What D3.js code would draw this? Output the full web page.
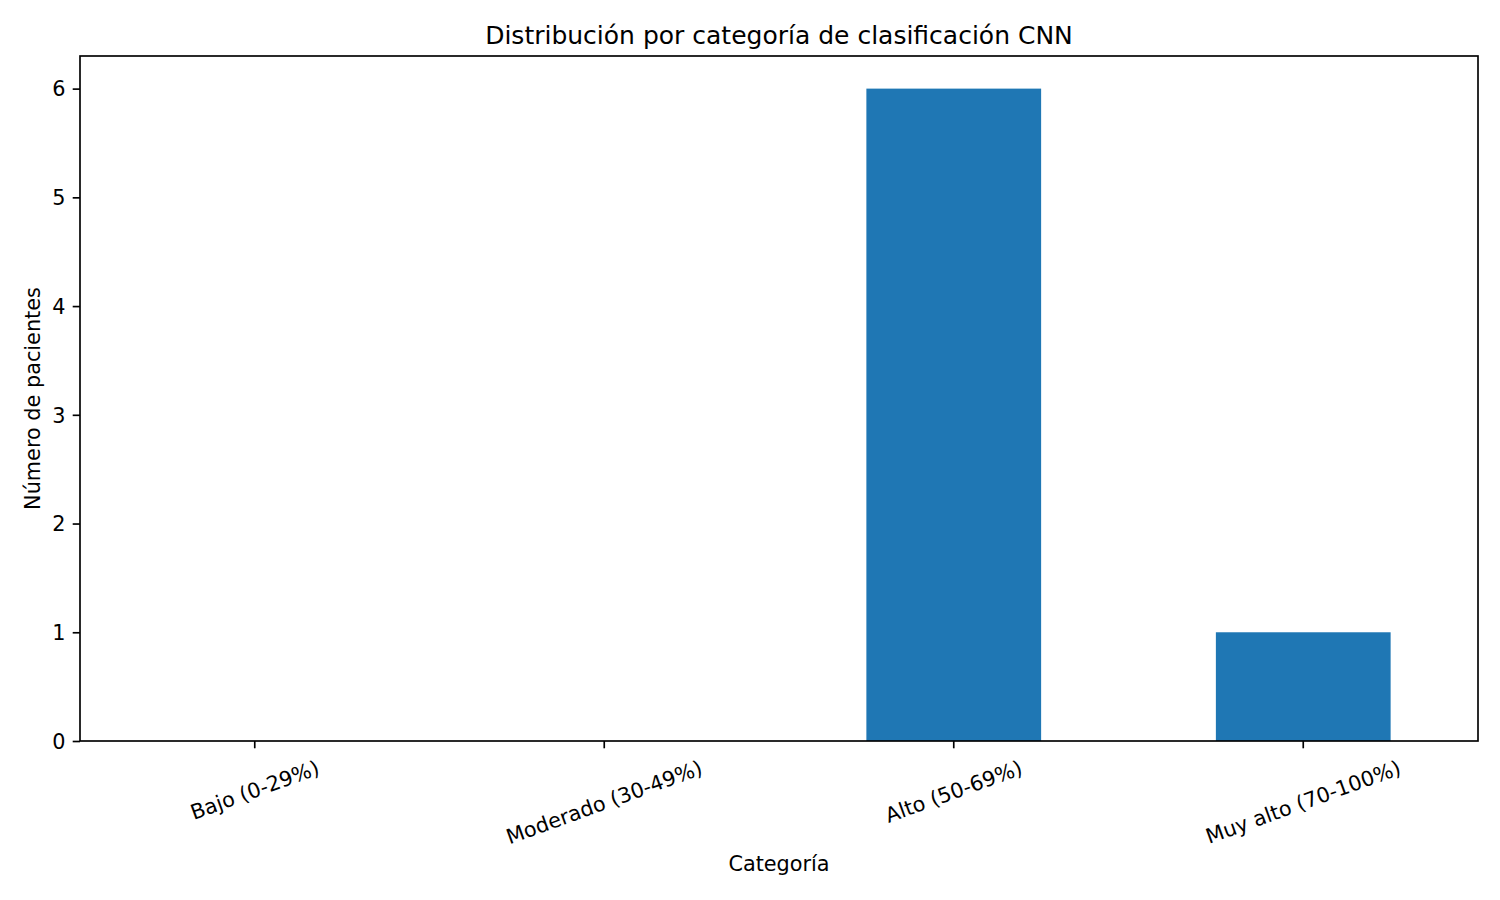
<!DOCTYPE html>
<html>
<meta charset="utf-8">
<script src="https://d3js.org/d3.v7.js"></script>
<style>
  body { margin: 0; background: #fff; }
  text { font-family: "DejaVu Sans", sans-serif; fill: #000; }
</style>
<body>
<div id="my_dataviz"></div>
<script type="text/javascript">
  // data
  var categories = ["Bajo (0-29%)", "Moderado (30-49%)", "Alto (50-69%)", "Muy alto (70-100%)"];
  var counts = [0, 0, 6, 1];
  var yTicks = [0, 1, 2, 3, 4, 5, 6];

  var titleText = "Distribución por categoría de clasificación CNN";
  var xLabel = "Categoría";
  var yLabel = "Número de pacientes";

  // matplotlib-ish sizes at 150 dpi
  var margin = {top: 56, right: 22, bottom: 159, left: 80},
    width = 1500 - margin.left - margin.right,
    height = 900 - margin.top - margin.bottom;
  var lw = 1.67, tickLen = 7.3, tickPad = 7.3, fs = 20.8;

  var root = d3.select("#my_dataviz")
    .append("svg")
      .attr("width", 1500)
      .attr("height", 900);
  var svg = root.append("g")
      .attr("transform", "translate(" + margin.left + "," + margin.top + ")");

  var x = d3.scaleBand()
    .range([0, width])
    .domain(categories)
    .paddingInner(0.5)
    .paddingOuter(0.25);

  var y = d3.scaleLinear()
    .range([height, 0])
    .domain([0, 6.3]);

  // bars
  var data = categories.map(function(c, i) { return {cat: c, n: counts[i]}; });
  svg.selectAll(".bar")
    .data(data)
    .enter()
    .append("rect")
      .attr("class", "bar")
      .attr("x", function(d) { return x(d.cat); })
      .attr("y", function(d) { return y(d.n); })
      .attr("width", x.bandwidth())
      .attr("height", function(d) { return height - y(d.n); })
      .style("fill", "#1f77b4");

  // x axis
  var xAxis = svg.append("g")
    .attr("transform", "translate(0," + height + ")")
    .call(d3.axisBottom(x).tickSize(tickLen).tickSizeOuter(0).tickPadding(tickPad));
  xAxis.select(".domain").remove();
  xAxis.selectAll("line").attr("stroke", "#000").attr("stroke-width", lw);
  var rot = 20 * Math.PI / 180;
  xAxis.selectAll("text")
    .style("font-size", fs + "px")
    .attr("text-anchor", "middle")
    .each(function() {
      var t = d3.select(this);
      var L = this.getComputedTextLength();
      var H = fs * 1.164;
      var boxH = L * Math.sin(rot) + H * Math.cos(rot);
      var cy = tickLen + tickPad + boxH / 2;
      t.attr("x", 0).attr("y", 0).attr("dy", "0.346em")
        .attr("transform", "translate(0," + cy + ") rotate(-20)");
    });

  // y axis
  var yAxis = svg.append("g")
    .call(d3.axisLeft(y).tickValues(yTicks).tickFormat(d3.format("d"))
      .tickSize(tickLen).tickSizeOuter(0).tickPadding(tickPad));
  yAxis.select(".domain").remove();
  yAxis.selectAll("line").attr("stroke", "#000").attr("stroke-width", lw);
  yAxis.selectAll("text").style("font-size", fs + "px").attr("dy", "0.35em");

  // spines
  svg.append("rect")
    .attr("x", 0).attr("y", 0)
    .attr("width", width).attr("height", height)
    .attr("fill", "none")
    .attr("stroke", "#000")
    .attr("stroke-width", lw);

  // labels
  root.append("text")
    .attr("x", margin.left + width / 2)
    .attr("y", 43.5)
    .attr("text-anchor", "middle")
    .style("font-size", "25px")
    .text(titleText);

  root.append("text")
    .attr("x", margin.left + width / 2)
    .attr("y", 871)
    .attr("text-anchor", "middle")
    .style("font-size", fs + "px")
    .text(xLabel);

  root.append("text")
    .attr("transform", "translate(40," + (margin.top + height / 2) + ") rotate(-90)")
    .attr("text-anchor", "middle")
    .style("font-size", fs + "px")
    .text(yLabel);
</script>
</body>
</html>
